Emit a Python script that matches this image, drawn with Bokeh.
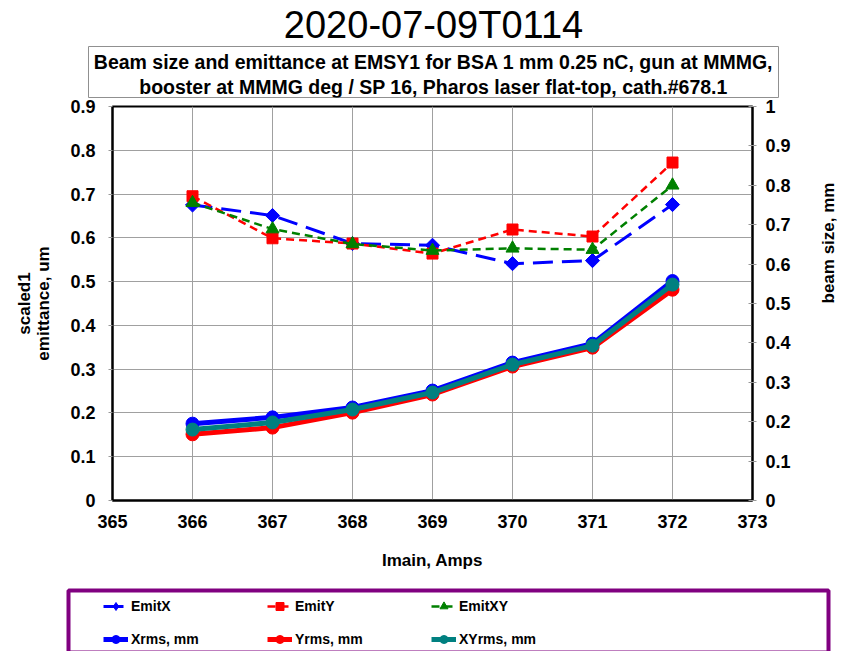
import math
from bokeh.plotting import figure
from bokeh.layouts import column
from bokeh.models import (Range1d, LinearAxis, FixedTicker, Label, Legend, LegendItem)
from bokeh.embed import file_html
from bokeh.resources import INLINE

# ---- data ----
imain = [366, 367, 368, 369, 370, 371, 372]
emit_x = [0.675, 0.651, 0.587, 0.583, 0.541, 0.548, 0.676]
emit_y = [0.695, 0.599, 0.587, 0.564, 0.619, 0.603, 0.772]
emit_xy = [0.680, 0.620, 0.586, 0.571, 0.576, 0.573, 0.720]
xrms = [0.195, 0.211, 0.236, 0.279, 0.350, 0.398, 0.557]
yrms = [0.168, 0.185, 0.223, 0.269, 0.340, 0.388, 0.535]
xyrms = [0.180, 0.198, 0.231, 0.274, 0.345, 0.393, 0.548]

x_ticks = [365, 366, 367, 368, 369, 370, 371, 372, 373]
left_ticks = [0, 0.1, 0.2, 0.3, 0.4, 0.5, 0.6, 0.7, 0.8, 0.9]
right_ticks = [0, 0.1, 0.2, 0.3, 0.4, 0.5, 0.6, 0.7, 0.8, 0.9, 1.0]

title_text = "2020-07-09T0114"
subtitle_1 = "Beam size and emittance at EMSY1 for BSA 1 mm 0.25 nC, gun at MMMG,"
subtitle_2 = "booster at MMMG deg / SP 16, Pharos laser flat-top, cath.#678.1"
series_names = ["EmitX", "EmitY", "EmitXY", "Xrms, mm", "Yrms, mm", "XYrms, mm"]

FONT = "Liberation Sans"
BLUE, RED, GREEN, TEAL = "#0000FF", "#FF0000", "#008000", "#008080"

# series styles: (color, line_width, dash, marker, size, angle, legend marker, legend size)
styles = [
    (BLUE, 3, "20 9", "square", 10, math.pi / 4, "diamond", 14),
    (RED, 2.5, "8 5", "square", 11, 0, "square", 11),
    (GREEN, 2.5, "8 5", "triangle", 13, 0, "triangle", 13),
    (BLUE, 5, "solid", "circle", 13, 0, "circle", 13),
    (RED, 5, "solid", "circle", 13, 0, "circle", 13),
    (TEAL, 5, "solid", "circle", 13, 0, "circle", 13),
]
series = [emit_x, emit_y, emit_xy, xrms, yrms, xyrms]


def no_align(fig):
    try:
        fig.frame_align = False
    except Exception:
        pass


# ================= header =================
head = figure(width=851, height=98, output_backend="svg", toolbar_location=None,
              x_axis_type=None, y_axis_type=None, x_range=Range1d(0, 1), y_range=Range1d(0, 1),
              min_border_left=88, min_border_right=73, min_border_top=45, min_border_bottom=1)
no_align(head)
head.grid.visible = False
head.outline_line_color = "#909090"
head.outline_line_width = 1
head.title.text = title_text
head.title.text_font = FONT
head.title.text_font_size = "38px"
head.title.text_font_style = "normal"
head.title.align = "center"
head.title.offset = -16
head.title.standoff = 2
head.title.text_color = "black"
for txt, yy in ((subtitle_1, 36), (subtitle_2, 11)):
    head.add_layout(Label(x=345, y=yy, x_units="screen", y_units="screen", text=txt,
                          text_align="center", text_baseline="middle",
                          text_font=FONT, text_font_style="bold", text_font_size="19.5px",
                          text_color="black"))

# ================= main chart =================
p = figure(width=851, height=490, output_backend="svg", toolbar_location=None,
           x_range=Range1d(365, 373), y_range=Range1d(0, 0.9),
           min_border_left=112, min_border_right=99, min_border_top=8,
           min_border_bottom=88)
no_align(p)
p.extra_y_ranges = {"beam": Range1d(0, 1)}
p.outline_line_color = "black"
p.outline_line_width = 2

xa = p.xaxis[0]
xa.ticker = FixedTicker(ticks=x_ticks)
xa.axis_label = "Imain, Amps"
xa.major_tick_out = 0
xa.major_tick_in = 0
xa.major_label_standoff = 14
xa.axis_label_standoff = 20

ya = p.yaxis[0]
ya.ticker = FixedTicker(ticks=left_ticks)
ya.major_label_overrides = {0: "0"}
ya.axis_label = "scaled1\nemittance, um"
ya.axis_label_text_line_height = 1.05
ya.major_tick_out = 4
ya.major_tick_in = 0
ya.major_tick_line_color = "#999999"
ya.major_label_standoff = 13
ya.axis_label_standoff = 14

ra = LinearAxis(y_range_name="beam", ticker=FixedTicker(ticks=right_ticks),
                axis_label="beam size, mm")
ra.major_label_overrides = {0: "0", 1: "1"}
ra.major_tick_out = 4
ra.major_tick_in = 4
ra.major_tick_line_color = "#999999"
ra.major_label_standoff = 9
ra.axis_label_standoff = 35
try:
    ra.axis_label_orientation = math.pi / 2
except Exception:
    pass
p.add_layout(ra, "right")

for ax in (xa, ya, ra):
    ax.minor_tick_out = 0
    ax.minor_tick_in = 0
    ax.axis_line_color = "black"
    ax.axis_line_width = 2
    ax.major_label_text_font = FONT
    ax.major_label_text_font_style = "bold"
    ax.major_label_text_font_size = "18px"
    ax.major_label_text_color = "black"
    ax.axis_label_text_font = FONT
    ax.axis_label_text_font_style = "bold"
    ax.axis_label_text_font_size = "17px"
    ax.axis_label_text_color = "black"

p.xgrid.ticker = FixedTicker(ticks=x_ticks)
p.ygrid.ticker = FixedTicker(ticks=left_ticks)
p.grid.grid_line_color = "#a0a0a0"
p.grid.grid_line_width = 1

for i, (vals, st) in enumerate(zip(series, styles)):
    color, lw, dash, marker, size, ang, _, _ = st
    kw = {} if i < 3 else {"y_range_name": "beam"}
    p.line(imain, vals, line_color=color, line_width=lw, line_dash=dash, **kw)
    p.scatter(imain, vals, marker=marker, size=size, angle=ang,
              fill_color=color, line_color=color, **kw)

# ================= legend footer =================
# The footer plots the same series, but its ranges keep them out of view: only its legend shows.
foot = figure(width=851, height=65, output_backend="svg", toolbar_location=None,
              x_axis_type=None, y_axis_type=None, x_range=Range1d(0, 1), y_range=Range1d(5, 6),
              min_border_left=68, min_border_right=23, min_border_top=2, min_border_bottom=0)
no_align(foot)
foot.grid.visible = False
foot.outline_line_color = "#800080"
foot.outline_line_width = 4

item_map = {}
for name, vals, st in zip(series_names, series, styles):
    color, lw, dash, _, _, _, lmarker, lsize = st
    rl = foot.line(imain, vals, line_color=color, line_width=lw, line_dash=dash)
    rm = foot.scatter(imain, vals, marker=lmarker, size=lsize,
                      fill_color=color, line_color=color)
    item_map[name] = LegendItem(label=name, renderers=[rl, rm])

# legend fills column by column: arrange so rows read EmitX/EmitY/EmitXY, then rms
order = ["EmitX", "Xrms, mm", "EmitY", "Yrms, mm", "EmitXY", "XYrms, mm"]
legend = Legend(items=[item_map[n] for n in order], ncols=3, location=(31, 0),
                padding=4, spacing=13, glyph_width=25, glyph_height=20,
                label_height=20, label_width=123, label_standoff=3,
                label_text_font=FONT, label_text_font_style="bold",
                label_text_font_size="14px", label_text_color="black",
                border_line_alpha=0, background_fill_alpha=0)
foot.add_layout(legend)

layout = column(head, p, foot, spacing=0)
open("out.html", "w").write(file_html(layout, INLINE))
